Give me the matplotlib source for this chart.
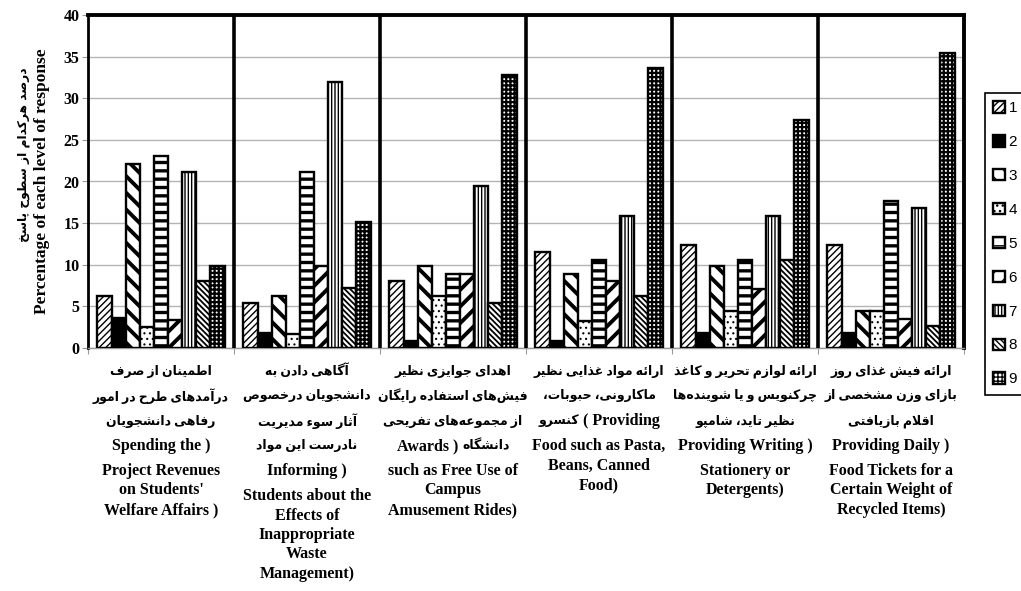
import matplotlib
matplotlib.use("Agg")
import matplotlib.pyplot as plt
import numpy as np

# ---- minimal Persian shaping (matplotlib has no bidi / joining) ----
_DUAL = {'ب': 0xFE8F, 'پ': 0xFB56, 'ت': 0xFE95, 'ث': 0xFE99, 'ج': 0xFE9D,
         'چ': 0xFB7A, 'ح': 0xFEA1, 'خ': 0xFEA5, 'س': 0xFEB1, 'ش': 0xFEB5,
         'ص': 0xFEB9, 'ض': 0xFEBD, 'ط': 0xFEC1, 'ظ': 0xFEC5, 'ع': 0xFEC9,
         'غ': 0xFECD, 'ف': 0xFED1, 'ق': 0xFED5, 'ک': 0xFB8E, 'گ': 0xFB92,
         'ل': 0xFEDD, 'م': 0xFEE1, 'ن': 0xFEE5, 'ه': 0xFEE9, 'ی': 0xFBFC,
         'ئ': 0xFE89}
_RIGHT = {'ا': 0xFE8D, 'آ': 0xFE81, 'د': 0xFEA9, 'ذ': 0xFEAB, 'ر': 0xFEAD,
          'ز': 0xFEAF, 'ژ': 0xFB8A, 'و': 0xFEED}


def fa(s):
    """Shape Persian text and return it in visual (left-to-right) order."""
    out, i = [], 0
    while i < len(s):
        c = s[i]
        prev = s[i - 1] if i else ''
        nxt = s[i + 1] if i + 1 < len(s) else ''
        p = prev in _DUAL
        if c == 'ل' and nxt in ('ا', 'آ'):
            out.append(chr((0xFEFB if nxt == 'ا' else 0xFEF5) + (1 if p else 0)))
            i += 2
            continue
        if c in _DUAL or c in _RIGHT:
            n = c in _DUAL and (nxt in _DUAL or nxt in _RIGHT)
            base = _DUAL.get(c, _RIGHT.get(c))
            out.append(chr(base + (3 if p and n else 1 if p else 2 if n else 0)))
        elif c != '\u200c':
            out.append(c)
        i += 1
    return ''.join(out)[::-1]


# ---- data (percent of each response level, levels 1..9) ----
levels = ["1", "2", "3", "4", "5", "6", "7", "8", "9"]
spending = [6.3, 3.6, 22.1, 2.5, 23.1, 3.4, 21.2, 8.0, 9.8]
informing = [5.4, 1.8, 6.3, 1.7, 21.2, 9.8, 31.9, 7.2, 15.1]
awards = [8.0, 0.9, 9.8, 6.2, 8.9, 8.9, 19.5, 5.4, 32.8]
food = [11.5, 0.9, 8.9, 3.3, 10.6, 8.0, 15.9, 6.2, 33.6]
writing = [12.4, 1.8, 9.8, 4.4, 10.6, 7.1, 15.9, 10.6, 27.4]
tickets = [12.4, 1.8, 4.4, 4.4, 17.7, 3.5, 16.8, 2.7, 35.4]

# mixed lines are (left part, right part) in visual order
labels = [
    [fa("اطمینان از صرف"), fa("درآمدهای طرح در امور"), fa("رفاهی دانشجویان"),
     "Spending the )", "Project Revenues", "on Students'", "Welfare Affairs )"],
    [fa("آگاهی دادن به"), fa("دانشجویان درخصوص"), fa("آثار سوء مدیریت"),
     fa("نادرست این مواد"), "Informing )", "Students about the", "Effects of",
     "Inappropriate", "Waste", "Management)"],
    [fa("اهدای جوایزی نظیر"), fa("فیش\u200cهای استفاده رایگان"),
     fa("از مجموعه\u200cهای تفریحی"), ("Awards ) ", fa("دانشگاه")),
     "such as Free Use of", "Campus", "Amusement Rides)"],
    [fa("ارائه مواد غذایی نظیر"), fa("ماکارونی، حبوبات،"),
     (fa("کنسرو"), " ( Providing"), "Food such as Pasta,", "Beans, Canned",
     "Food)"],
    [fa("ارائه لوازم تحریر و کاغذ"), fa("چرکنویس و یا شوینده\u200cها"),
     fa("نظیر تاید، شامپو"), "Providing Writing )", "Stationery or",
     "Detergents)"],
    [fa("ارائه فیش غذای روز"), fa("بازای وزن مشخصی از"), fa("اقلام بازیافتی"),
     "Providing Daily )", "Food Tickets for a", "Certain Weight of",
     "Recycled Items)"],
]
ylabel_fa = fa("درصد هرکدام از سطوح پاسخ")
ylabel_en = "Percentage of each level of response"

# ---- styles ----
HATCH = ['/////', '', '\\\\', '...', '--', '//', '|||||', '\\\\\\\\\\\\', '++++']
HATCH_LW = [1.0, 0.8, 2.8, 0.8, 2.4, 2.8, 1.0, 1.3, 1.6]
FACE = ['white', 'black', 'white', 'white', 'white', 'white', 'white', 'white', 'white']
SERIF = ['Liberation Serif', 'DejaVu Sans']
FS_FA, FS_EN = 9.0, 11.5
W, H = 1021, 591

data = np.array([spending, informing, awards, food, writing, tickets])
ngroups, nlev = data.shape
x = np.arange(ngroups)
bw = 0.0967

fig = plt.figure(figsize=(W / 100, H / 100), dpi=100)
fig.set_facecolor('white')
ax = fig.add_axes([88 / W, 1 - 348 / H, 876 / W, 333 / H])

handles = []
for i in range(nlev):
    with plt.rc_context({'hatch.linewidth': HATCH_LW[i], 'hatch.color': 'black'}):
        bars = ax.bar(x + (i - 4) * bw, data[:, i], width=bw, color=FACE[i],
                      edgecolor='black', linewidth=1.7, hatch=HATCH[i],
                      zorder=3, label=levels[i])
        for b in bars:
            if hasattr(b, 'set_hatch_linewidth'):
                b.set_hatch_linewidth(HATCH_LW[i])
    handles.append(bars)

for xb in np.arange(0.5, ngroups - 0.5):
    ax.axvline(xb, color='black', lw=2.6, zorder=5)

ax.set_xlim(-0.5, ngroups - 0.5)
ax.set_ylim(0, 40)
ax.set_yticks(range(0, 41, 5))
ax.yaxis.grid(True, color='#b4b4b4', lw=1.0)
ax.set_axisbelow(True)
ax.set_xticks(np.arange(-0.5, ngroups))
ax.set_xticklabels([])
ax.tick_params(axis='x', length=4, color='#999999', width=0.8)
ax.tick_params(axis='y', length=4, color='#999999', width=0.8, pad=2)
for t in ax.get_yticklabels():
    t.set_fontfamily(SERIF)
    t.set_fontweight('bold')
    t.set_fontsize(11.5)

for side, lw, col in [('top', 2.8, 'black'), ('left', 2.0, 'black'),
                      ('right', 2.8, 'black'), ('bottom', 1.0, '#999999')]:
    ax.spines[side].set_linewidth(lw)
    ax.spines[side].set_color(col)

# y labels (Persian + English)
fig.text(24 / W, 1 - 155 / H, ylabel_fa, rotation=90, ha='center', va='center',
         family='DejaVu Sans', fontweight='bold', fontsize=8.8)
fig.text(42 / W, 1 - 181 / H, ylabel_en, rotation=90, ha='center', va='center',
         family=SERIF, fontweight='bold', fontsize=12.5)


# category labels below each group
def is_fa(s):
    return not any(c.isascii() and c.isalpha() for c in s)


renderer = fig.canvas.get_renderer()
for g, lines in enumerate(labels):
    cx = ax.transData.transform((g, 0))[0]
    y = 371
    for line in lines:
        parts = line if isinstance(line, tuple) else (line,)
        texts = [fig.text(0, 1 - y / H, p, ha='left', va='center', family=SERIF,
                          fontweight='bold', fontsize=FS_FA if is_fa(p) else FS_EN)
                 for p in parts]
        widths = [t.get_window_extent(renderer).width for t in texts]
        x0 = cx - sum(widths) / 2
        for t, w in zip(texts, widths):
            t.set_x(x0 / W)
            x0 += w
        has_fa = any(ord(ch) > 0x600 for p in parts for ch in p)
        y += 25 if (has_fa or parts[-1].endswith(' )')) else 19.5

leg = fig.legend(handles=handles, labels=levels, loc='upper left',
                 bbox_to_anchor=(985 / W, 1 - 93 / H), frameon=True,
                 fancybox=False, edgecolor='black', framealpha=1,
                 prop={'family': 'Liberation Sans', 'size': 11},
                 handlelength=0.75, handleheight=0.75, handletextpad=0.25,
                 labelspacing=1.3, borderpad=0.55, borderaxespad=0)
leg.get_frame().set_linewidth(1.2)

fig.savefig('out.png', dpi=100, facecolor='white')
